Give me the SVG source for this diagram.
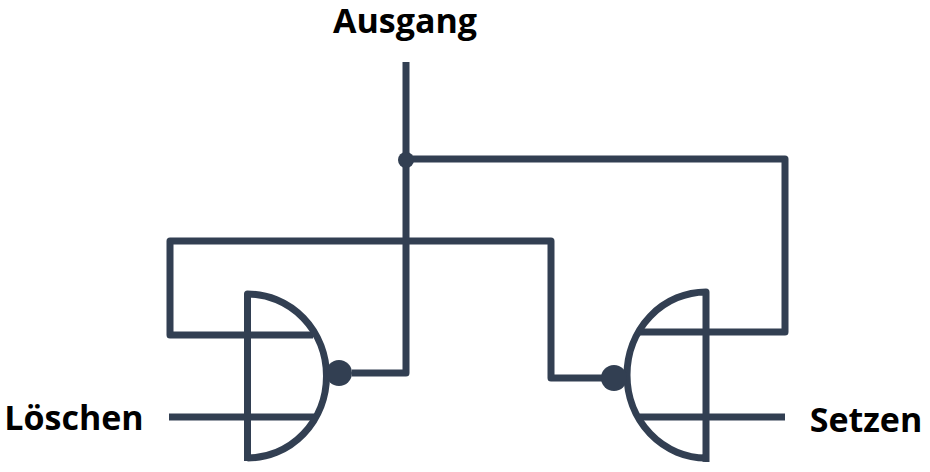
<svg xmlns="http://www.w3.org/2000/svg" width="930" height="472" viewBox="0 0 930 472">
<style>
.w{fill:none;stroke:#323f52;stroke-width:7;stroke-linejoin:round}
.b{fill:#323f52}
.t{font-family:"Open Sans","Liberation Sans",sans-serif;font-weight:700;font-size:34px;fill:#000}
</style>
<rect width="930" height="472" fill="#fff"/>
<g id="connectors">
<path class="w" d="M406 62V373H352"/>
<path class="w" d="M406 159H785V332H640"/>
<path class="w" d="M313 335H170V241H551V378H602"/>
<path class="w" d="M169 417H316"/>
<path class="w" d="M785 417H640"/>
<circle class="b" cx="406" cy="160" r="8"/>
</g>
<g id="gate-left">
<path class="w" d="M247.500 461V294A79 82 0 0 1 247.500 458"/>
<circle class="b" cx="339" cy="373" r="13"/>
</g>
<g id="gate-right">
<path class="w" d="M706 462V292A79 83 0 0 0 706 458"/>
<circle class="b" cx="614" cy="378" r="13"/>
</g>
<g id="label-ausgang"><text class="t" x="405" y="33" text-anchor="middle">Ausgang</text></g>
<g id="label-loeschen"><text class="t" x="74" y="430" text-anchor="middle">Löschen</text></g>
<g id="label-setzen"><text class="t" x="866" y="432" text-anchor="middle">Setzen</text></g>
</svg>
